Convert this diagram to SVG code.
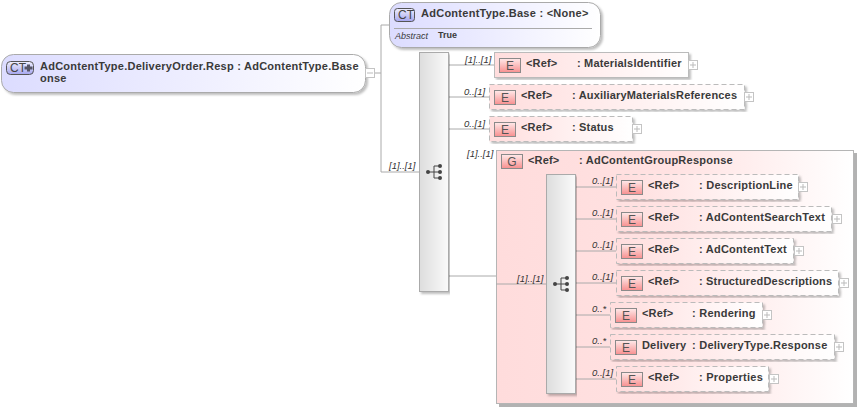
<svg xmlns="http://www.w3.org/2000/svg" width="858" height="411" viewBox="0 0 858 411">
<style>
text{font-family:"Liberation Sans",Arial,sans-serif;font-size:11px;font-weight:bold;fill:#3a3a3a;letter-spacing:.18px}
.w{letter-spacing:.24px}
.c{font-weight:normal;font-style:italic;font-size:9.500px;letter-spacing:0;fill:#333}
.l{fill:none;stroke:#aaa;stroke-width:1}
.el{fill:url(#ge);stroke:#bbb;stroke-width:1;filter:url(#sh)}
.d{stroke-dasharray:5 3}
.b{fill:url(#gb);stroke:#8a8a8a;stroke-width:1}
.bt{font-weight:normal;font-size:12px;fill:#555;text-anchor:middle;letter-spacing:0}
.seq{fill:url(#gs);stroke:#aaa;stroke-width:1;filter:url(#sh)}
.p{fill:#fff;stroke:#c4c4c4}
.pm{fill:none;stroke:#bbb}
.ic{fill:#444}
.icl{fill:none;stroke:#444;stroke-width:1}
</style>
<defs>
<linearGradient id="ge"><stop offset="0" stop-color="#fdd"/><stop offset="1" stop-color="#fff"/></linearGradient>
<linearGradient id="gb" x1="0" y1="0" x2="0" y2="1"><stop offset="0" stop-color="#ffeaea"/><stop offset="1" stop-color="#f78f8f"/></linearGradient>
<linearGradient id="gs"><stop offset="0" stop-color="#ddd"/><stop offset="1" stop-color="#fafafa"/></linearGradient>
<linearGradient id="gc"><stop offset="0" stop-color="#dcdcff"/><stop offset="1" stop-color="#fff"/></linearGradient>
<linearGradient id="gct" x1="0" y1="0" x2="0" y2="1"><stop offset="0" stop-color="#f0f0ff"/><stop offset="1" stop-color="#a5a5ee"/></linearGradient>
<linearGradient id="gg"><stop offset="0" stop-color="#ffdcdc"/><stop offset=".5" stop-color="#ffe2e2"/><stop offset="1" stop-color="#fff"/></linearGradient>
<filter id="sh" x="-5%" y="-5%" width="110%" height="115%"><feDropShadow dx="2" dy="2" stdDeviation="1" flood-color="#000" flood-opacity=".25"/></filter>
<filter id="shg" x="-5%" y="-5%" width="110%" height="110%"><feDropShadow dx="3" dy="3" stdDeviation=".7" flood-color="#000" flood-opacity=".3"/></filter>
<symbol id="seqi" width="18" height="16" viewBox="0 0 18 16" overflow="visible"><path class="icl" d="M2 8H8M8 2H14M8 8H14M8 14H14M8 2V14"/><circle class="ic" cx="2" cy="8" r="2"/><circle class="ic" cx="14" cy="2" r="2"/><circle class="ic" cx="14" cy="8" r="2"/><circle class="ic" cx="14" cy="14" r="2"/></symbol>
<g id="plus"><rect class="p" x=".5" y=".5" width="9" height="9"/><path class="pm" d="M2 5H8M5 2V8"/></g>
<g id="ebox"><rect class="b" x=".5" y=".5" width="21" height="14"/><text class="bt" x="11" y="12">E</text></g>
</defs>
<g id="group">
<rect x="496.500" y="150.500" width="357" height="253" fill="url(#gg)" stroke="#b5b5b5" filter="url(#shg)"/>
<rect class="b" x="501.500" y="154.500" width="21" height="14"/><text class="bt" x="512" y="166">G</text>
<text x="528" y="164">&lt;Ref&gt;</text><text class="w" x="579" y="164">: AdContentGroupResponse</text>
</g>
<g id="connectors">
<path class="l" d="M375 73H381M381 25V172M381 25H389M381 172H419"/>
<path class="l" d="M448 65H494M448 97H489M448 129H489M448 276H496M496 284H546"/>
<path class="l" d="M575 187H616M575 219H616M575 251H616M575 283H616M575 315H610M575 347H610M575 379H616"/>
<text class="c" x="389" y="169">[1]..[1]</text>
<text class="c" x="465" y="63">[1]..[1]</text>
<text class="c" x="464" y="95">0..[1]</text>
<text class="c" x="464" y="127">0..[1]</text>
<text class="c" x="467" y="157">[1]..[1]</text>
<text class="c" x="517" y="282">[1]..[1]</text>
<text class="c" x="592" y="184">0..[1]</text>
<text class="c" x="592" y="216">0..[1]</text>
<text class="c" x="592" y="248">0..[1]</text>
<text class="c" x="592" y="280">0..[1]</text>
<text class="c" x="592" y="312">0..*</text>
<text class="c" x="592" y="344">0..*</text>
<text class="c" x="592" y="376">0..[1]</text>
</g>
<g id="root">
<rect x="1.500" y="54.500" width="364" height="38" rx="12" fill="url(#gc)" stroke="#aaa" filter="url(#sh)"/>
<rect x="6.500" y="61.500" width="27" height="13" rx="4" fill="url(#gct)" stroke="#555"/>
<text x="10" y="72" style="font-weight:normal;font-size:12px;fill:#444;letter-spacing:0">CT</text>
<path d="M27 64.500H30V66.500H32.500V69.500H30V71.500H27V69.500H24.500V66.500H27Z" fill="#556"/>
<text class="w" x="40" y="70">AdContentType.DeliveryOrder.Resp : AdContentType.Base</text>
<text class="w" x="40" y="82">onse</text>
<rect class="p" x="365.500" y="68.500" width="9" height="9"/><path class="pm" d="M367 73H373"/>
</g>
<g id="base">
<rect x="389.500" y="2.500" width="211" height="45" rx="12" fill="url(#gc)" stroke="#aaa" filter="url(#sh)"/>
<rect x="394.500" y="8.500" width="20" height="13" rx="3" fill="url(#gct)" stroke="#555"/>
<text x="398" y="19" style="font-weight:normal;font-size:12px;fill:#444;letter-spacing:0">CT</text>
<text class="w" x="421" y="17" style="letter-spacing:.26px">AdContentType.Base : &lt;None&gt;</text>
<path d="M394 28.500H592" stroke="#aaa"/>
<text x="395" y="39" style="font-weight:normal;font-style:italic;font-size:9px;letter-spacing:0">Abstract</text>
<text x="438" y="38" style="font-size:9px;letter-spacing:0">True</text>
</g>
<g id="seq1">
<rect class="seq" x="419.500" y="52.500" width="29" height="239"/>
<use href="#seqi" x="426" y="164"/>
</g>
<g id="e-materials">
<rect class="el" x="494.500" y="52.500" width="194" height="25"/>
<use href="#ebox" x="499" y="58"/>
<text x="526" y="67">&lt;Ref&gt;</text><text x="577" y="67">: MaterialsIdentifier</text>
<use href="#plus" x="688" y="60"/>
</g>
<g id="e-aux">
<rect class="el d" x="489.500" y="84.500" width="255" height="25"/>
<use href="#ebox" x="494" y="90"/>
<text x="521" y="99">&lt;Ref&gt;</text><text x="572" y="99">: AuxiliaryMaterialsReferences</text>
<use href="#plus" x="744" y="92"/>
</g>
<g id="e-status">
<rect class="el d" x="489.500" y="116.500" width="143" height="25"/>
<use href="#ebox" x="494" y="122"/>
<text x="521" y="131">&lt;Ref&gt;</text><text x="572" y="131">: Status</text>
<use href="#plus" x="632" y="124"/>
</g>
<g id="seq2">
<rect class="seq" x="546.500" y="174.500" width="29" height="219"/>
<use href="#seqi" x="553" y="276"/>
</g>
<g id="e-desc">
<rect class="el d" x="616.500" y="174.500" width="182" height="25"/>
<use href="#ebox" x="621" y="180"/>
<text x="648" y="189">&lt;Ref&gt;</text><text class="w" x="699" y="189">: DescriptionLine</text>
<use href="#plus" x="798" y="182"/>
</g>
<g id="e-search">
<rect class="el d" x="616.500" y="206.500" width="215" height="25"/>
<use href="#ebox" x="621" y="212"/>
<text x="648" y="221">&lt;Ref&gt;</text><text class="w" x="699" y="221">: AdContentSearchText</text>
<use href="#plus" x="832" y="214"/>
</g>
<g id="e-text">
<rect class="el d" x="616.500" y="238.500" width="177" height="25"/>
<use href="#ebox" x="621" y="244"/>
<text x="648" y="253">&lt;Ref&gt;</text><text class="w" x="699" y="253">: AdContentText</text>
<use href="#plus" x="794" y="246"/>
</g>
<g id="e-struct">
<rect class="el d" x="616.500" y="270.500" width="222" height="25"/>
<use href="#ebox" x="621" y="276"/>
<text x="648" y="285">&lt;Ref&gt;</text><text x="699" y="285">: StructuredDescriptions</text>
<use href="#plus" x="839" y="278"/>
</g>
<g id="e-render">
<rect class="el d" x="610.500" y="302.500" width="152" height="25"/>
<use href="#ebox" x="615" y="308"/>
<text x="642" y="317">&lt;Ref&gt;</text><text class="w" x="692" y="317">: Rendering</text>
<use href="#plus" x="762" y="310"/>
</g>
<g id="e-delivery">
<rect class="el d" x="610.500" y="334.500" width="224" height="25"/>
<use href="#ebox" x="615" y="340"/>
<text x="642" y="349">Delivery</text><text class="w" x="692" y="349">: DeliveryType.Response</text>
<use href="#plus" x="834" y="342"/>
</g>
<g id="e-props">
<rect class="el d" x="616.500" y="366.500" width="152" height="25"/>
<use href="#ebox" x="621" y="372"/>
<text x="648" y="381">&lt;Ref&gt;</text><text class="w" x="699" y="381">: Properties</text>
<use href="#plus" x="769" y="374"/>
</g>
</svg>
